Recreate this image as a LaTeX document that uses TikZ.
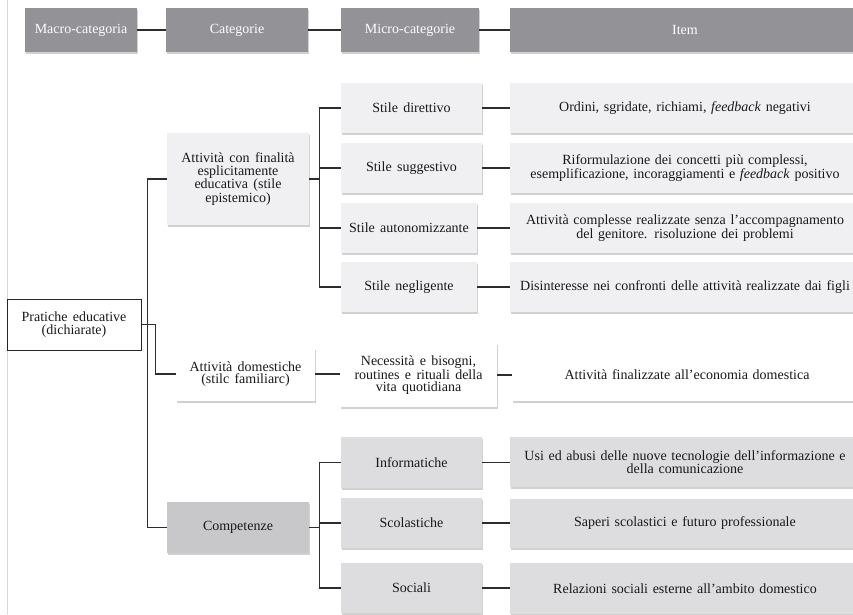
\documentclass[tikz,border=0pt]{standalone}
\usepackage{fontspec}
\setmainfont{Liberation Serif}
\usetikzlibrary{shadows}
\definecolor{headgray}{RGB}{146,146,151}
\definecolor{palegray}{RGB}{240,240,242}
\definecolor{midgray}{RGB}{200,200,203}
\definecolor{softgray}{RGB}{221,221,223}
\definecolor{linegray}{RGB}{45,45,45}
\definecolor{inkgray}{RGB}{25,25,25}
\newcommand\boxfont{\fontsize{14}{12.5}\selectfont\spaceskip=0.38em plus 0.1em minus 0.05em\relax}

\begin{document}
\begin{tikzpicture}[x=1pt, y=-1pt,
  box/.style={inner sep=3pt, align=center, text=inkgray, font=\boxfont},
  shadowed/.style={box, drop shadow={shadow xshift=0.5pt, shadow yshift=-2pt, opacity=0.3, fill=black!60}},
  headbox/.style={shadowed, fill=headgray, text=white, minimum height=44},
  palebox/.style={shadowed, fill=palegray, minimum height=50},
  midbox/.style={shadowed, fill=midgray, minimum height=51},
  softbox/.style={shadowed, fill=softgray, minimum height=50},
  whitebox/.style={shadowed, fill=white, minimum height=53},
  itembox/.style={text width=344},
  conn/.style={draw=linegray, line width=1.1pt}]
  \useasboundingbox (0,0) rectangle (853,614);
  \draw[black!15, line width=0.8pt] (7,0) -- (7,614);

  % header
  \node[headbox, minimum width=112] (hmacro) at (81,30) {Macro-categoria};
  \node[headbox, minimum width=142] (hcat) at (237,30) {Categorie};
  \node[headbox, minimum width=138] (hmicro) at (410,30) {Micro-categorie};
  \node[headbox, minimum width=350] (hitem) at (685,30) {Item};
  \draw[conn] (hmacro) -- (hcat);
  \draw[conn] (hcat) -- (hmicro);
  \draw[conn] (hmicro) -- (hitem);

  % macro
  \node[box, fill=white, draw=black!85, line width=1pt, minimum width=134, minimum height=51] (prat) at (74,324.5) {Pratiche educative\\(dichiarate)};

  % categorie
  \node[palebox, minimum width=142, minimum height=92] (att) at (238,179) {Attività con finalità\\esplicitamente\\educativa (stile\\epistemico)};
  \node[whitebox, minimum width=139] (dom) at (245.5,374) {Attività domestiche\\(stilc familiarc)};
  \node[midbox, minimum width=142] (comp) at (238,527.5) {Competenze};

  % micro-categorie
  \node[palebox, minimum width=141] (dir) at (411.5,108) {Stile direttivo};
  \node[palebox, minimum width=141] (sug) at (411.5,168) {Stile suggestivo};
  \node[palebox, minimum width=136] (aut) at (409,228) {Stile autonomizzante};
  \node[palebox, minimum width=136] (neg) at (409,287) {Stile negligente};
  \node[whitebox, minimum width=157, minimum height=64] (nec) at (418.5,375) {Necessità e bisogni,\\routines e rituali della\\vita quotidiana};
  \node[softbox, minimum width=141, minimum height=51] (inf) at (411.5,462.5) {Informatiche};
  \node[softbox, minimum width=141] (scol) at (411.5,523) {Scolastiche};
  \node[softbox, minimum width=141] (soc) at (411.5,588) {Sociali};

  % item
  \node[palebox, itembox] (ord) at (685,108) {Ordini, sgridate, richiami, \textit{feedback} negativi};
  \node[palebox, itembox] (rif) at (685,168) {Riformulazione dei concetti più complessi,\\esemplificazione, incoraggiamenti e \textit{feedback} positivo};
  \node[palebox, itembox] (com) at (685,228) {Attività complesse realizzate senza l’accompagnamento\\del genitore. risoluzione dei problemi};
  \node[palebox, itembox] (dis) at (685,287) {Disinteresse nei confronti delle attività realizzate dai figli};
  \node[whitebox, itembox] (fin) at (687,374.5) {Attività finalizzate all’economia domestica};
  \node[softbox, itembox] (usi) at (685,462) {Usi ed abusi delle nuove tecnologie dell’informazione e\\della comunicazione};
  \node[softbox, itembox, minimum height=49] (sap) at (685,523.5) {Saperi scolastici e futuro professionale};
  \node[softbox, itembox, minimum height=51] (rel) at (685,588.5) {Relazioni sociali esterne all’ambito domestico};

  % connectors
  \draw[conn] (att.west) -- ++(-19,0) |- (comp.west);
  \draw[conn] (prat.east) -- ++(14,0) |- (dom.west);
  \draw[conn] (att.east) -- ++(11,0);
  \draw[conn] (dir.west) -- ++(-21,0) |- (neg.west);
  \foreach \n in {sug,aut}
    \draw[conn] (\n.west) -- ++(-21,0);
  \draw[conn] (comp.east) -- ++(11,0);
  \draw[conn] (inf.west) -- ++(-21,0) |- (soc.west);
  \draw[conn] (scol.west) -- ++(-21,0);
  \foreach \a/\b in {dir/ord, sug/rif, aut/com, neg/dis, dom/nec, nec/fin, inf/usi, scol/sap, soc/rel}
    \draw[conn] (\a.east) -- (\a.east -| \b.west);
\end{tikzpicture}
\end{document}
